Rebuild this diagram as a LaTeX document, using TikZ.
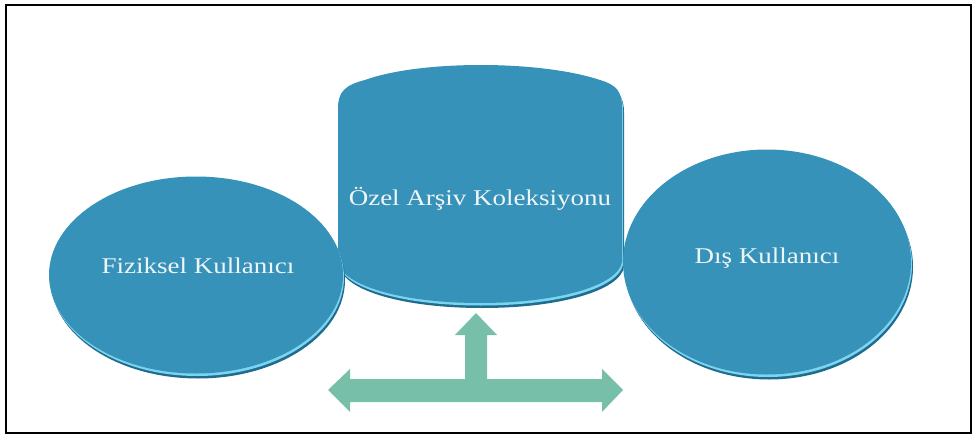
\documentclass[tikz,border=0pt]{standalone}
\usepackage{fontspec}
\usepackage{tikz}
\usetikzlibrary{shapes.geometric}
\newfontfamily\labelfont[FakeStretch=1.2]{Liberation Serif}

\definecolor{diskblue}{HTML}{3792BA}
\definecolor{rimlight}{HTML}{7BD4F0}
\definecolor{rimdark}{HTML}{1F6C8F}
\definecolor{arrowgreen}{HTML}{77BFA8}
\definecolor{labelwhite}{HTML}{EEF5F7}

\tikzset{
  relief/.style={fill=diskblue,
    preaction={fill=rimdark, transform canvas={shift={(2pt,-5pt)}}},
    preaction={fill=rimlight, transform canvas={shift={(1pt,-2.5pt)}}}},
  disk/.style={ellipse, relief, inner sep=0pt},
  caption/.style={text=labelwhite, inner sep=0pt, font=\labelfont\fontsize{22.5}{27}\selectfont},
}

\begin{document}
\begin{tikzpicture}[x=1pt, y=-1pt]

\useasboundingbox (0,0) rectangle (975,436);
\draw[line width=2pt] (6,5) rectangle (971,433);

% the archive block, behind the two disks
\path[relief] (338,262) -- (338,108) .. controls (338,92) and (345,85) .. (365,80)
  .. controls (420,60) and (540,60) .. (600,80) .. controls (617,85) and (622,92) .. (622,108)
  -- (622,262) .. controls (618,285) and (560,303) .. (480,303)
  .. controls (400,303) and (342,285) .. (338,262);
\node[caption] (archive) at (480,199) {Özel Arşiv Koleksiyonu};

\node[disk, minimum width=294pt, minimum height=197pt] (physical) at (196,275) {};
\node[caption] (physical label) at (198,266) {Fiziksel Kullanıcı};

\node[disk, minimum width=288pt, minimum height=225pt] (external) at (767,262) {};
\node[caption] (external label) at (767,258) {Dış Kullanıcı};

% three-headed block arrow
\fill[arrowgreen] (476,313) -- (497,335) -- (487,335) -- (487,379) -- (602,379) -- (602,369)
  -- (623,390) -- (602,412) -- (602,402) -- (350,402) -- (350,412) -- (328,390)
  -- (350,369) -- (350,379) -- (465,379) -- (465,335) -- (455,335) -- cycle;

\end{tikzpicture}
\end{document}
